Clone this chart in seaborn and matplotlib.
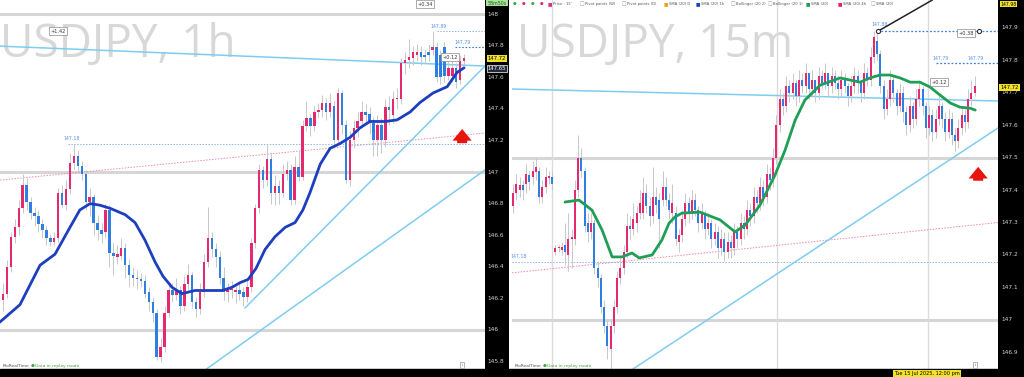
import matplotlib
matplotlib.use('Agg')
import matplotlib.pyplot as plt
from matplotlib.patches import Rectangle
import numpy as np
import pandas as pd
import seaborn as sns

# ---------------- USDJPY 1h ----------------
h1_open = [146.19, 146.23, 146.40, 146.59, 146.65, 146.77, 146.92, 146.81, 146.74, 146.72,
           146.67, 146.63, 146.58, 146.56, 146.58, 146.87, 146.79, 146.89, 147.06, 147.10,
           147.04, 146.99, 146.81, 146.84, 146.68, 146.63, 146.62, 146.76, 146.49, 146.46,
           146.47, 146.52, 146.41, 146.35, 146.33, 146.32, 146.31, 146.24, 146.18, 146.11,
           145.83, 145.89, 146.11, 146.25, 146.22, 146.25, 146.15, 146.29, 146.35, 146.18,
           146.13, 146.24, 146.43, 146.58, 146.51, 146.46, 146.33, 146.24, 146.25, 146.24,
           146.25, 146.24, 146.21, 146.27, 146.55, 146.77, 147.01, 146.95, 147.08, 146.87,
           146.91, 146.87, 146.99, 147.01, 146.82, 147.03, 146.97, 147.29, 147.34, 147.29,
           147.38, 147.39, 147.44, 147.38, 147.42, 147.20, 147.50, 147.30, 146.95, 147.20,
           147.28, 147.32, 147.38, 147.37, 147.31, 147.20, 147.30, 147.20, 147.41, 147.36,
           147.46, 147.46, 147.69, 147.71, 147.72, 147.74, 147.76, 147.74, 147.76, 147.77,
           147.79, 147.74, 147.79, 147.61, 147.61, 147.66, 147.58, 147.70]
h1_close = [146.23, 146.40, 146.59, 146.65, 146.77, 146.92, 146.81, 146.74, 146.72, 146.67,
            146.63, 146.58, 146.56, 146.58, 146.87, 146.79, 146.89, 147.06, 147.10, 147.04,
            146.99, 146.81, 146.84, 146.68, 146.63, 146.61, 146.76, 146.49, 146.47, 146.48,
            146.52, 146.41, 146.35, 146.33, 146.32, 146.31, 146.23, 146.18, 146.11, 145.83,
            145.89, 146.11, 146.25, 146.22, 146.25, 146.15, 146.29, 146.35, 146.18, 146.13,
            146.24, 146.43, 146.58, 146.51, 146.46, 146.33, 146.24, 146.25, 146.26, 146.25,
            146.23, 146.21, 146.27, 146.55, 146.77, 147.01, 146.95, 147.08, 146.87, 146.91,
            146.87, 146.99, 147.01, 146.82, 147.03, 146.97, 147.29, 147.34, 147.29, 147.38,
            147.39, 147.44, 147.38, 147.44, 147.20, 147.50, 147.30, 146.95, 147.20, 147.28,
            147.32, 147.38, 147.36, 147.31, 147.20, 147.30, 147.20, 147.41, 147.39, 147.46,
            147.47, 147.69, 147.71, 147.73, 147.76, 147.76, 147.73, 147.73, 147.74, 147.79,
            147.60, 147.60, 147.61, 147.66, 147.66, 147.57, 147.70, 147.72]
h1_high = [146.30, 146.44, 146.62, 146.70, 146.82, 146.99, 146.96, 146.84, 146.78, 146.76,
           146.70, 146.66, 146.61, 146.62, 146.90, 146.92, 146.95, 147.12, 147.18, 147.14,
           147.07, 147.01, 146.90, 146.86, 146.73, 146.68, 146.80, 146.79, 146.55, 146.54,
           146.58, 146.55, 146.45, 146.40, 146.38, 146.36, 146.35, 146.27, 146.21, 146.13,
           145.95, 146.15, 146.29, 146.30, 146.33, 146.28, 146.34, 146.42, 146.37, 146.21,
           146.30, 146.48, 146.78, 146.62, 146.55, 146.50, 146.40, 146.30, 146.31, 146.28,
           146.30, 146.27, 146.33, 146.58, 146.80, 147.05, 147.04, 147.17, 147.12, 146.98,
           146.95, 147.05, 147.07, 147.05, 147.10, 147.14, 147.33, 147.45, 147.37, 147.42,
           147.44, 147.49, 147.47, 147.50, 147.45, 147.53, 147.52, 147.33, 147.26, 147.33,
           147.38, 147.45, 147.43, 147.41, 147.35, 147.36, 147.34, 147.46, 147.48, 147.51,
           147.53, 147.72, 147.76, 147.84, 147.80, 147.81, 147.80, 147.78, 147.81, 147.89,
           147.82, 147.77, 147.82, 147.72, 147.70, 147.69, 147.74, 147.75]
h1_low = [146.12, 146.20, 146.37, 146.55, 146.60, 146.74, 146.76, 146.70, 146.66, 146.62,
          146.58, 146.54, 146.53, 146.54, 146.56, 146.77, 146.76, 146.86, 147.02, 147.00,
          146.95, 146.76, 146.72, 146.60, 146.57, 146.55, 146.58, 146.40, 146.35, 146.42,
          146.44, 146.33, 146.27, 146.28, 146.26, 146.27, 146.20, 146.12, 146.05, 145.81,
          145.80, 145.86, 146.08, 146.18, 146.19, 146.10, 146.12, 146.26, 146.14, 146.08,
          146.10, 146.21, 146.40, 146.46, 146.40, 146.29, 146.19, 146.18, 146.20, 146.17,
          146.19, 146.15, 146.18, 146.24, 146.52, 146.74, 146.90, 146.91, 146.80, 146.79,
          146.80, 146.84, 146.95, 146.79, 146.80, 146.94, 146.95, 147.26, 147.23, 147.26,
          147.34, 147.35, 147.33, 147.35, 147.15, 147.17, 147.24, 146.93, 146.91, 147.15,
          147.22, 147.28, 147.31, 147.24, 147.10, 147.10, 147.12, 147.16, 147.30, 147.31,
          147.40, 147.43, 147.62, 147.66, 147.68, 147.70, 147.68, 147.69, 147.70, 147.74,
          147.57, 147.56, 147.57, 147.58, 147.57, 147.53, 147.56, 147.68]
h1_sma_x = [-0.8, 4.3, 9.4, 13.2, 17.0, 19.5, 22.1, 24.6, 27.2, 31.0, 33.5, 36.0, 38.6, 40.6,
            42.9, 45.4, 48.7, 52.5, 55.6, 58.1, 60.2, 62.2, 64.2, 66.5, 69.0, 71.6, 74.1,
            76.1, 77.9, 80.5, 83.0, 85.5, 88.1, 90.6, 93.1, 97.0, 100.0, 103.3, 105.8,
            109.1, 112.7, 115.2, 117.0]
h1_sma = [146.05, 146.16, 146.41, 146.48, 146.65, 146.76, 146.80, 146.79, 146.77, 146.73,
          146.68, 146.57, 146.43, 146.34, 146.27, 146.23, 146.25, 146.25, 146.25, 146.27,
          146.30, 146.32, 146.39, 146.51, 146.59, 146.65, 146.68, 146.76, 146.87, 147.05,
          147.15, 147.18, 147.22, 147.28, 147.32, 147.32, 147.33, 147.38, 147.44, 147.50,
          147.54, 147.63, 147.66]
h1_date_pos = [5.8, 10.9, 17.8, 29.4, 34.5, 42.4, 53.0, 58.4, 66.0, 74.1, 83.0, 90.1, 101.0, 105.8, 114.0]
h1_date_lbl = ['09', '05:00 am', '01:00 pm', '10', '05:00 am', '01:00 pm', '11', '05:00 am',
               '01:00 pm', '09:00 pm', '14', '01:00 pm', '15', '05:00 am', '01:00 pm']
h1_price_ticks = [148.0, 147.8, 147.6, 147.4, 147.2, 147.0, 146.8, 146.6, 146.4, 146.2, 146.0, 145.8]

# ---------------- USDJPY 15m ----------------
m15_open = [147.35, 147.39, 147.40, 147.415, 147.42, 147.445, 147.44, 147.455, 147.46, 147.38,
            147.41, 147.437, 147.44, 147.21, 147.22, 147.215, 147.23, 147.20, 147.25, 147.25,
            147.40, 147.50, 147.46, 147.30, 147.27, 147.30, 147.16, 147.13, 147.04, 146.98,
            146.91, 146.98, 147.04, 147.13, 147.16, 147.21, 147.29, 147.28, 147.30, 147.33,
            147.33, 147.39, 147.35, 147.32, 147.38, 147.37, 147.37, 147.41, 147.37, 147.33,
            147.33, 147.24, 147.26, 147.31, 147.36, 147.33, 147.37, 147.34, 147.30, 147.33,
            147.28, 147.30, 147.25, 147.27, 147.22, 147.25, 147.21, 147.24, 147.22, 147.27,
            147.25, 147.30, 147.28, 147.34, 147.32, 147.38, 147.36, 147.41, 147.38, 147.45,
            147.43, 147.50, 147.60, 147.68, 147.66, 147.72, 147.70, 147.73, 147.69, 147.74,
            147.72, 147.76, 147.71, 147.74, 147.70, 147.75, 147.73, 147.76, 147.72, 147.75,
            147.73, 147.71, 147.74, 147.72, 147.69, 147.72, 147.75, 147.73, 147.70, 147.76,
            147.74, 147.81, 147.86, 147.82, 147.72, 147.65, 147.68, 147.74, 147.70, 147.66,
            147.70, 147.64, 147.60, 147.66, 147.62, 147.68, 147.71, 147.66, 147.59, 147.63,
            147.58, 147.62, 147.66, 147.62, 147.58, 147.62, 147.57, 147.55, 147.59, 147.63,
            147.61, 147.68, 147.70]
m15_close = [147.39, 147.42, 147.415, 147.40, 147.45, 147.425, 147.46, 147.47, 147.38, 147.41,
             147.44, 147.44, 147.42, 147.22, 147.22, 147.225, 147.21, 147.25, 147.255, 147.40,
             147.50, 147.46, 147.29, 147.27, 147.30, 147.16, 147.13, 147.04, 146.98, 146.92,
             146.98, 147.04, 147.13, 147.16, 147.21, 147.29, 147.28, 147.31, 147.33, 147.36,
             147.39, 147.35, 147.32, 147.38, 147.355, 147.31, 147.41, 147.37, 147.34, 147.36,
             147.25, 147.26, 147.31, 147.36, 147.33, 147.37, 147.34, 147.30, 147.33, 147.28,
             147.30, 147.25, 147.27, 147.22, 147.25, 147.21, 147.24, 147.22, 147.27, 147.25,
             147.30, 147.28, 147.34, 147.32, 147.38, 147.36, 147.41, 147.38, 147.45, 147.43,
             147.50, 147.60, 147.68, 147.66, 147.72, 147.70, 147.73, 147.69, 147.74, 147.72,
             147.76, 147.71, 147.74, 147.70, 147.75, 147.73, 147.76, 147.72, 147.75, 147.73,
             147.71, 147.74, 147.72, 147.69, 147.72, 147.75, 147.73, 147.70, 147.76, 147.74,
             147.81, 147.87, 147.82, 147.72, 147.65, 147.68, 147.74, 147.70, 147.66, 147.70,
             147.64, 147.60, 147.66, 147.62, 147.68, 147.71, 147.66, 147.59, 147.63, 147.58,
             147.62, 147.66, 147.62, 147.58, 147.62, 147.57, 147.55, 147.59, 147.63, 147.61,
             147.68, 147.70, 147.72]
m15_high = [147.42, 147.45, 147.44, 147.43, 147.48, 147.46, 147.49, 147.50, 147.47, 147.43,
            147.47, 147.46, 147.46, 147.23, 147.23, 147.24, 147.30, 147.33, 147.28, 147.43,
            147.57, 147.53, 147.47, 147.33, 147.33, 147.31, 147.18, 147.14, 147.06, 147.00,
            147.00, 147.06, 147.15, 147.19, 147.23, 147.33, 147.32, 147.36, 147.35, 147.40,
            147.44, 147.42, 147.38, 147.47, 147.41, 147.39, 147.46, 147.44, 147.39, 147.42,
            147.35, 147.28, 147.34, 147.39, 147.38, 147.40, 147.39, 147.35, 147.36, 147.34,
            147.33, 147.31, 147.30, 147.29, 147.28, 147.27, 147.27, 147.26, 147.30, 147.29,
            147.33, 147.32, 147.37, 147.36, 147.41, 147.40, 147.44, 147.43, 147.48, 147.47,
            147.53, 147.63, 147.71, 147.70, 147.75, 147.74, 147.76, 147.74, 147.77, 147.76,
            147.79, 147.76, 147.77, 147.74, 147.78, 147.77, 147.79, 147.76, 147.78, 147.77,
            147.75, 147.77, 147.76, 147.73, 147.75, 147.78, 147.77, 147.74, 147.79, 147.78,
            147.84, 147.89, 147.88, 147.83, 147.74, 147.71, 147.77, 147.75, 147.71, 147.73,
            147.72, 147.66, 147.69, 147.67, 147.71, 147.74, 147.72, 147.67, 147.66, 147.65,
            147.65, 147.69, 147.67, 147.64, 147.65, 147.64, 147.59, 147.62, 147.66, 147.65,
            147.71, 147.74, 147.75]
m15_low = [147.33, 147.37, 147.38, 147.37, 147.39, 147.40, 147.42, 147.43, 147.36, 147.36,
           147.39, 147.42, 147.40, 147.20, 147.21, 147.20, 147.17, 147.15, 147.16, 147.23,
           147.38, 147.44, 147.27, 147.24, 147.25, 147.14, 147.10, 147.02, 146.96, 146.88,
           146.85, 146.96, 147.02, 147.11, 147.14, 147.19, 147.25, 147.26, 147.27, 147.31,
           147.31, 147.33, 147.29, 147.30, 147.33, 147.22, 147.35, 147.35, 147.31, 147.30,
           147.23, 147.21, 147.24, 147.29, 147.30, 147.31, 147.32, 147.27, 147.28, 147.25,
           147.26, 147.22, 147.23, 147.19, 147.20, 147.18, 147.19, 147.19, 147.20, 147.22,
           147.23, 147.25, 147.26, 147.29, 147.30, 147.33, 147.34, 147.35, 147.36, 147.40,
           147.41, 147.48, 147.58, 147.63, 147.64, 147.67, 147.68, 147.66, 147.67, 147.70,
           147.70, 147.68, 147.69, 147.67, 147.68, 147.71, 147.71, 147.69, 147.70, 147.71,
           147.68, 147.69, 147.70, 147.66, 147.67, 147.70, 147.70, 147.67, 147.68, 147.72,
           147.72, 147.79, 147.80, 147.70, 147.62, 147.63, 147.66, 147.67, 147.63, 147.64,
           147.61, 147.57, 147.58, 147.59, 147.60, 147.66, 147.63, 147.56, 147.57, 147.55,
           147.56, 147.60, 147.59, 147.55, 147.56, 147.54, 147.52, 147.53, 147.57, 147.58,
           147.59, 147.66, 147.69]
m15_sma_x = [16.0, 20.3, 24.3, 27.4, 30.5, 33.5, 36.6, 38.8, 42.8, 45.8, 48.0, 49.8, 52.0,
             57.5, 63.7, 68.3, 71.4, 76.0, 80.6, 83.7, 86.8, 89.8, 94.5, 100.6, 106.8, 109.8,
             112.9, 116.0, 119.1, 122.2, 125.2, 128.3, 131.4, 134.5, 137.5, 140.6, 142.2]
m15_sma = [147.363, 147.369, 147.338, 147.277, 147.194, 147.194, 147.206, 147.191, 147.200,
           147.246, 147.298, 147.317, 147.329, 147.332, 147.308, 147.271, 147.292, 147.354,
           147.446, 147.523, 147.615, 147.677, 147.723, 147.745, 147.732, 147.745, 147.754,
           147.754, 147.745, 147.732, 147.732, 147.717, 147.692, 147.668, 147.655, 147.652,
           147.646]
m15_date_pos = [3.7, 12.3, 26.2, 38.2, 49.8, 61.5, 72.9, 81.2, 98.2, 109.2, 143.0]
m15_date_lbl = ['04:00 am', '14', '10:00 am', '01:00 pm', '04:00 pm', '07:00 pm', '10:00 pm',
                '15', '04:00 am', '07:00 am', '04:00 pm']
m15_price_ticks = [147.9, 147.8, 147.7, 147.6, 147.5, 147.4, 147.3, 147.2, 147.1, 147.0, 146.9]

legend_names = ["Price · 15'", 'Pivot points (W)', 'Pivot points (D)', 'SMA (20) D', 'SMA (20) 1h',
                'Bollinger (20 2)', 'Bollinger (20 1)', 'SMA (20)', 'SMA (20) 4h', 'SMA (20)']
legend_colors = ['#d1338a', None, None, '#f0a020', '#1d3fbf', None, None, '#1f9e58', '#e0245e', None]
legend_px = [550, 582, 624, 666, 698, 733, 770, 808, 840, 873]

UP = '#e6286e'
DOWN = '#2f7fe0'
WICK = '#c8c8c8'
LVL = '#d6d6d6'
SKY = '#7fcdee'

sns.set_theme(style='white')
plt.rcParams['font.family'] = ['DejaVu Sans']

W, H = 1024, 377
fig = plt.figure(figsize=(W / 100, H / 100), dpi=100)
fig.patch.set_facecolor('white')


def px(x0, y0, w, h):
    # pixel box (top-left origin) -> figure rect
    return [x0 / W, 1 - (y0 + h) / H, w / W, h / H]


def draw_candles(ax, o, c, hi, lo):
    df = pd.DataFrame({'o': o, 'c': c, 'h': hi, 'l': lo})
    df['i'] = np.arange(len(df))
    ax.vlines(df['i'], df['l'], df['h'], color=WICK, lw=0.7, zorder=2)
    bottom = df[['o', 'c']].min(axis=1)
    height = (df['c'] - df['o']).abs().clip(lower=0.006)
    colors = np.where(df['c'] >= df['o'], UP, DOWN)
    ax.bar(df['i'], height, bottom=bottom, width=0.62, color=colors, lw=0, zorder=3)


def price_strip(rect, ylim, ticks, fmt):
    sx = fig.add_axes(rect)
    sx.set_facecolor('black')
    sx.set_xlim(0, 1)
    sx.set_ylim(*ylim)
    sx.set_xticks([])
    sx.set_yticks([])
    for sp in sx.spines.values():
        sp.set_visible(False)
    for t in ticks:
        sx.text(0.12, t, fmt(t), color='#d0d0d0', fontsize=4.2, va='center', ha='left')
    return sx


def box(ax, x, y, s, fs=3.6, **kw):
    ax.text(x, y, s, fontsize=fs, color='#333333', ha='center', va='center', zorder=8,
            bbox=dict(boxstyle='square,pad=0.25', fc='white', ec='#8a8a8a', lw=0.5), **kw)


def style_main(ax, xlim, ylim, pos, lbl):
    ax.set_xlim(*xlim)
    ax.set_ylim(*ylim)
    ax.set_facecolor('white')
    for sp in ax.spines.values():
        sp.set_visible(False)
    ax.set_yticks([])
    ax.set_xticks(pos)
    ax.set_xticklabels(lbl)
    ax.tick_params(axis='x', length=0, pad=1.2, labelsize=3.6, labelcolor='#cfcfcf')
    for t in ax.get_xticklabels():
        if len(t.get_text()) == 2:
            t.set_color('white')
            t.set_fontweight('bold')
    ax.grid(False)


# bottom black date strip
fig.patches.append(Rectangle((0, 0), 1, 8 / H, transform=fig.transFigure, color='black', zorder=0))

# ================= left panel =================
axL = fig.add_axes(px(0, 0, 485, 369))
ylimL = (145.753, 148.089)
style_main(axL, (-0.76, 122.3), ylimL, h1_date_pos, h1_date_lbl)
for lv in [148.0, 147.0, 146.0]:
    axL.axhline(lv, color=LVL, lw=2.2, zorder=1)
axL.text(0.0, 1 - 57 / 369, 'USDJPY, 1h', transform=axL.transAxes, fontsize=33,
         family='Open Sans', color='#d8d8d8', ha='left', va='baseline', zorder=0)
# reference lines
axL.plot([-0.76, 122.3], [146.949, 147.247], color='#f08aa5', lw=0.7, ls=(0, (1.5, 1.5)), zorder=1)
axL.plot([16.5, 122.3], [147.18, 147.18], color='#8fb6ea', lw=0.7, ls=(0, (1.5, 1.5)), zorder=1)
axL.plot([110.2, 122.3], [147.89, 147.89], color='#8fb6ea', lw=0.7, ls=(0, (1.5, 1.5)), zorder=1)
axL.plot([114.7, 122.3], [147.79, 147.79], color='#3f7fdc', lw=0.8, ls=(0, (1.5, 1.5)), zorder=1)
axL.plot([-0.76, 122.3], [147.797, 147.671], color=SKY, lw=1.1, zorder=2)
axL.plot([61.4, 122.3], [146.139, 147.671], color=SKY, lw=1.1, zorder=2)
axL.plot([51.3, 122.3], [145.747, 147.013], color=SKY, lw=1.1, zorder=2)
draw_candles(axL, h1_open, h1_close, h1_high, h1_low)
sns.lineplot(x=h1_sma_x, y=h1_sma, ax=axL, color='#1d3fbf', lw=2.0, zorder=5)
axL.annotate('', xy=(116.5, 147.29), xytext=(116.5, 147.165),
             arrowprops=dict(arrowstyle='simple,head_width=1.15,head_length=0.7,tail_width=0.6',
                             color='#e8140e', lw=0), zorder=6)
axL.text(17.5, 147.205, '147.18', fontsize=3.3, color='#5b8fe0', ha='center')
axL.text(110.4, 147.91, '147.89', fontsize=3.3, color='#5b8fe0', ha='center')
axL.text(116.6, 147.81, '147.79', fontsize=3.3, color='#5b8fe0', ha='center')
box(axL, 14.0, 147.892, '+1.42')
box(axL, 107.1, 148.063, '+0.34')
box(axL, 113.4, 147.728, '+0.12')
stripL = price_strip(px(485, 0, 24, 369), ylimL, h1_price_ticks, lambda t: f'{t:g}')
stripL.text(0.5, 147.72, '147.72', fontsize=3.8, color='black', ha='center', va='center',
            bbox=dict(boxstyle='square,pad=0.2', fc='#f2e32a', ec='none'))
stripL.text(0.5, 147.655, '147.65', fontsize=3.8, color='white', ha='center', va='center',
            bbox=dict(boxstyle='square,pad=0.2', fc='#202a3a', ec='white', lw=0.5))
stripL.text(0.5, 148.07, '58m50s', fontsize=3.4, color='#1d5e1d', ha='center', va='center',
            bbox=dict(boxstyle='square,pad=0.2', fc='#a8e39c', ec='none'))

# ================= right panel =================
axR = fig.add_axes(px(512, 0, 486, 369))
ylimR = (146.849, 147.985)
style_main(axR, (-0.31, 149.2), ylimR, m15_date_pos, m15_date_lbl)
for lv in [147.5, 147.0]:
    axR.axhline(lv, color=LVL, lw=2.2, zorder=1)
for vx in [12.0, 81.2, 127.7]:
    axR.axvline(vx, color='#dcdcdc', lw=1.0, zorder=1)
axR.text(0.01, 1 - 57 / 369, 'USDJPY, 15m', transform=axR.transAxes, fontsize=33,
         family='Open Sans', color='#d8d8d8', ha='left', va='baseline', zorder=0)
axR.plot([-0.31, 149.2], [147.145, 147.300], color='#f08aa5', lw=0.7, ls=(0, (1.5, 1.5)), zorder=1)
axR.plot([-0.31, 149.2], [147.178, 147.178], color='#8fb6ea', lw=0.7, ls=(0, (1.5, 1.5)), zorder=1)
axR.plot([112.0, 149.2], [147.889, 147.889], color='#3f7fdc', lw=0.9, ls=(0, (1.5, 1.5)), zorder=1)
axR.plot([130.0, 149.2], [147.79, 147.79], color='#3f7fdc', lw=0.9, ls=(0, (1.5, 1.5)), zorder=1)
axR.plot([-0.31, 149.2], [147.711, 147.674], color=SKY, lw=1.1, zorder=2)
axR.plot([36.9, 149.2], [146.849, 147.591], color=SKY, lw=1.1, zorder=2)
draw_candles(axR, m15_open, m15_close, m15_high, m15_low)
sns.lineplot(x=m15_sma_x, y=m15_sma, ax=axR, color='#1f9e58', lw=2.0, zorder=5)
axR.plot([112.3, 129.0], [147.889, 147.985], color='#222222', lw=1.1, zorder=6)
axR.plot([112.3, 143.3], [147.889, 147.889], ls='none', marker='o', ms=3, mfc='white',
         mec='#333333', mew=0.8, zorder=7)
axR.annotate('', xy=(143.1, 147.48), xytext=(143.1, 147.42),
             arrowprops=dict(arrowstyle='simple,head_width=1.15,head_length=0.7,tail_width=0.6',
                             color='#e8140e', lw=0), zorder=6)
axR.text(1.6, 147.19, '147.18', fontsize=3.3, color='#5b8fe0', ha='center')
axR.text(112.9, 147.905, '147.88', fontsize=3.3, color='#5b8fe0', ha='center')
axR.text(131.4, 147.80, '147.79', fontsize=3.3, color='#5b8fe0', ha='center')
axR.text(142.2, 147.80, '147.79', fontsize=3.3, color='#5b8fe0', ha='center')
box(axR, 139.4, 147.883, '+0.38')
box(axR, 131.1, 147.732, '+0.12')
stripR = price_strip(px(998, 0, 26, 369), ylimR, m15_price_ticks, lambda t: f'{t:g}')
stripR.text(0.45, 147.715, '147.72', fontsize=3.8, color='black', ha='center', va='center',
            bbox=dict(boxstyle='square,pad=0.2', fc='#f2e32a', ec='none'))
stripR.text(0.40, 147.972, '147.98', fontsize=3.3, color='black', ha='center', va='center',
            bbox=dict(boxstyle='square,pad=0.15', fc='#f2e32a', ec='none'))

# yellow crosshair date
fig.text(927 / W, 4 / H, 'Tue 15 Jul 2025, 12:00 pm', fontsize=3.6, color='black', ha='center',
         va='center', bbox=dict(boxstyle='square,pad=0.2', fc='#f2e32a', ec='none'))

# legend row on the 15m chart
for k, col in enumerate(['#3aa83a', '#e0245e', '#3aa83a', '#e0245e']):
    fig.text((515 + 9 * k) / W, 1 - 4 / H, '●', fontsize=3.0, color=col, ha='center', va='center')
for name, col, lx in zip(legend_names, legend_colors, legend_px):
    fig.text(lx / W, 1 - 4 / H, '■' if col else '□', fontsize=3.4, color=col or '#999999',
             ha='center', va='center')
    fig.text((lx + 3) / W, 1 - 4 / H, name, fontsize=2.7, color='#555555', ha='left', va='center')

# footer tags
for x0 in [3, 515]:
    fig.text(x0 / W, 11 / H, 'ProRealTime', fontsize=3.2, color='#555555', ha='left', va='center')
    fig.text((x0 + 28) / W, 11 / H, '●', fontsize=3.2, color='#3aa83a', ha='left', va='center')
    fig.text((x0 + 32) / W, 11 / H, 'Data in replay mode', fontsize=3.2, color='#4aa04a',
             ha='left', va='center')
for x0 in [462, 975]:
    fig.text(x0 / W, 12 / H, 'i', fontsize=3.2, color='#666666', ha='center', va='center',
             bbox=dict(boxstyle='square,pad=0.3', fc='white', ec='#999999', lw=0.5))

fig.savefig('out.png', dpi=100, facecolor='white')
